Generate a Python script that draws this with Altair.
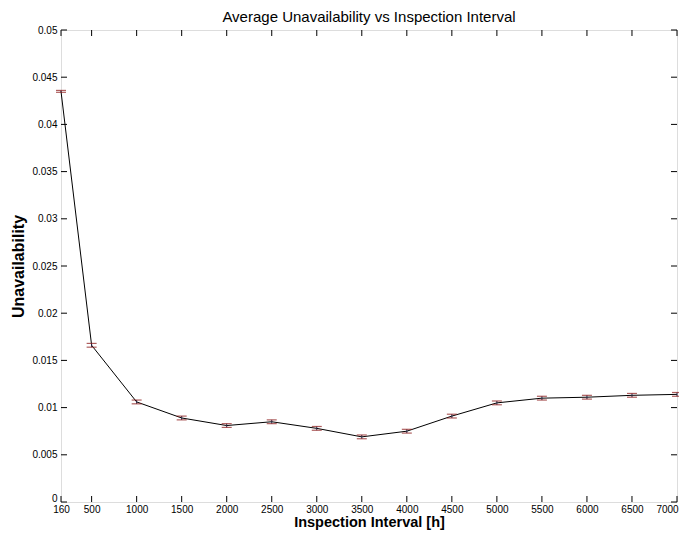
import altair as alt
import pandas as pd

intervals = [160, 500, 1000, 1500, 2000, 2500, 3000, 3500, 4000, 4500, 5000, 5500, 6000, 6500, 7000]
unavail = [0.0435, 0.0166, 0.0106, 0.0089, 0.0081, 0.0085, 0.0078, 0.0069, 0.0075, 0.0091, 0.0105, 0.0110, 0.0111, 0.0113, 0.0114]
err = [0.0001, 0.0002, 0.0002, 0.0002, 0.0002, 0.0002, 0.0002, 0.0002, 0.0002, 0.0002, 0.0002, 0.0002, 0.0002, 0.0002, 0.0002]
x_ticks = [160, 500, 1000, 1500, 2000, 2500, 3000, 3500, 4000, 4500, 5000, 5500, 6000, 6500, 7000]
y_ticks = [0, 0.005, 0.01, 0.015, 0.02, 0.025, 0.03, 0.035, 0.04, 0.045, 0.05]

W, H = 616, 472
FONT = "Liberation Sans"

df = pd.DataFrame({"x": intervals, "y": unavail, "e": err})
df["lo"] = df["y"] - df["e"]
df["hi"] = df["y"] + df["e"]

xs = alt.Scale(domain=[160, 7000], nice=False, zero=False)
ys = alt.Scale(domain=[0, 0.05], nice=False)

xax = alt.Axis(values=x_ticks, labelExpr="datum.value", tickSize=0, grid=False,
               title="Inspection Interval [h]", titleFontSize=14.5, titleFontWeight="bold",
               labelFontSize=10, labelColor="black", titleColor="black", titlePadding=1,
               labelPadding=2, domain=False, labelFont=FONT, titleFont=FONT, labelFlush=False,
               labelOffset={"condition": {"test": "datum.value == 7000", "value": -10}, "value": 0})
yax = alt.Axis(values=y_ticks, labelExpr="datum.value", tickSize=0, grid=False,
               title="Unavailability", titleFontSize=16, titleFontWeight="bold",
               labelFontSize=10, labelColor="black", titleColor="black", titlePadding=5,
               labelPadding=4, domain=False, labelFont=FONT, titleFont=FONT,
               labelOffset={"condition": {"test": "datum.value == 0", "value": -4}, "value": 0})

base = alt.Chart(df)

line = base.mark_line(color="black", strokeWidth=1).encode(
    x=alt.X("x:Q", scale=xs, axis=xax),
    y=alt.Y("y:Q", scale=ys, axis=yax),
)
bars = base.mark_rule(color="#222244", strokeWidth=1).encode(
    x=alt.X("x:Q", scale=xs), y=alt.Y("lo:Q", scale=ys), y2="hi:Q")
cap_lo = base.mark_tick(color="#8b1a1a", thickness=1.2, size=10, orient="horizontal").encode(
    x=alt.X("x:Q", scale=xs), y=alt.Y("lo:Q", scale=ys))
cap_hi = base.mark_tick(color="#8b1a1a", thickness=1.2, size=10, orient="horizontal").encode(
    x=alt.X("x:Q", scale=xs), y=alt.Y("hi:Q", scale=ys))

ydf = pd.DataFrame({"t": y_ticks})
xdf = pd.DataFrame({"t": x_ticks})
yt_left = alt.Chart(ydf).mark_rule(color="black").encode(
    y=alt.Y("t:Q", scale=ys), x=alt.value(0), x2=alt.value(6))
yt_right = alt.Chart(ydf).mark_rule(color="black").encode(
    y=alt.Y("t:Q", scale=ys), x=alt.value(W - 6), x2=alt.value(W))
xt_bot = alt.Chart(xdf).mark_rule(color="black").encode(
    x=alt.X("t:Q", scale=xs), y=alt.value(H - 6), y2=alt.value(H))
xt_top = alt.Chart(xdf).mark_rule(color="black").encode(
    x=alt.X("t:Q", scale=xs), y=alt.value(0), y2=alt.value(6))

chart = alt.layer(line, bars, cap_lo, cap_hi, yt_left, yt_right, xt_bot, xt_top).properties(
    width=W, height=H,
    title=alt.Title("Average Unavailability vs Inspection Interval", fontSize=15,
                    fontWeight="normal", font=FONT, color="black", offset=0),
    autosize=alt.AutoSizeParams(type="none"),
    padding={"left": 53, "top": 22, "right": 2, "bottom": 29},
).configure_view(stroke="black", strokeWidth=1).configure(background="white")

chart.save("out.html", embed_options={"renderer": "svg", "actions": False})
